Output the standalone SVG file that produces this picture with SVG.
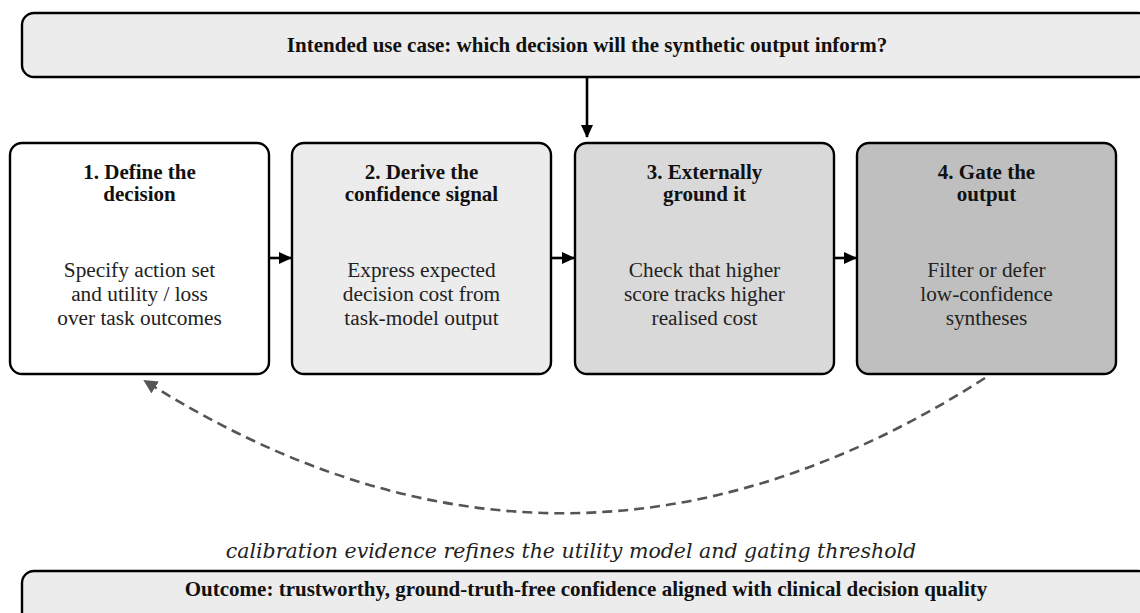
<svg xmlns="http://www.w3.org/2000/svg" width="1140" height="613" viewBox="0 0 1140 613">
<defs>
<style>
.box{stroke:#000;stroke-width:2.4}
.t{font-family:"Liberation Serif",serif;font-weight:bold;font-size:21px;fill:#111;text-anchor:middle}
.b{font-family:"Liberation Serif",serif;font-size:21.3px;fill:#222;text-anchor:middle}
.cap{font-family:"DejaVu Serif",serif;font-style:italic;font-size:20.5px;fill:#222;text-anchor:middle}
.c{fill:none;stroke:#000;stroke-width:2.6}
.fb{fill:none;stroke:#555;stroke-width:2.6;stroke-dasharray:10,6}
</style>
<marker id="ah" markerWidth="13" markerHeight="12" refX="12" refY="6" orient="auto" markerUnits="userSpaceOnUse"><path d="M0,0 L13,6 L0,12 z" fill="#000"/></marker>
<marker id="ahg" markerWidth="14" markerHeight="14" refX="12" refY="7" orient="auto" markerUnits="userSpaceOnUse"><path d="M0,0 L14,7 L0,14 z" fill="#555"/></marker>
</defs>
<g id="top"><rect class="box" x="22" y="13" width="1128" height="64" rx="12" fill="#ececec"/><text class="t" x="587" y="52">Intended use case: which decision will the synthetic output inform?</text></g>
<g id="n1"><rect class="box" x="10" y="143" width="259" height="231" rx="12" fill="#ffffff"/><text class="t" x="139.5" y="179">1. Define the</text><text class="t" x="139.5" y="201">decision</text><text class="b" x="139.5" y="277">Specify action set</text><text class="b" x="139.5" y="301">and utility / loss</text><text class="b" x="139.5" y="325">over task outcomes</text></g>
<g id="n2"><rect class="box" x="292" y="143" width="259" height="231" rx="12" fill="#ececec"/><text class="t" x="421.5" y="179">2. Derive the</text><text class="t" x="421.5" y="201">confidence signal</text><text class="b" x="421.5" y="277">Express expected</text><text class="b" x="421.5" y="301">decision cost from</text><text class="b" x="421.5" y="325">task-model output</text></g>
<g id="n3"><rect class="box" x="575" y="143" width="259" height="231" rx="12" fill="#d9d9d9"/><text class="t" x="704.5" y="179">3. Externally</text><text class="t" x="704.5" y="201">ground it</text><text class="b" x="704.5" y="277">Check that higher</text><text class="b" x="704.5" y="301">score tracks higher</text><text class="b" x="704.5" y="325">realised cost</text></g>
<g id="n4"><rect class="box" x="857" y="143" width="259" height="231" rx="12" fill="#bfbfbf"/><text class="t" x="986.5" y="179">4. Gate the</text><text class="t" x="986.5" y="201">output</text><text class="b" x="986.5" y="277">Filter or defer</text><text class="b" x="986.5" y="301">low-confidence</text><text class="b" x="986.5" y="325">syntheses</text></g>
<g id="bottom"><rect class="box" x="22" y="571" width="1128" height="64" rx="12" fill="#ececec"/><text class="t" x="586" y="596">Outcome: trustworthy, ground-truth-free confidence aligned with clinical decision quality</text></g>
<text class="cap" x="571" y="558">calibration evidence refines the utility model and gating threshold</text>
<g id="connectors">
<line class="c" x1="587" y1="78" x2="587" y2="137" marker-end="url(#ah)"/>
<line class="c" x1="268" y1="258" x2="291" y2="258" marker-end="url(#ah)"/>
<line class="c" x1="550" y1="258" x2="574" y2="258" marker-end="url(#ah)"/>
<line class="c" x1="833" y1="258" x2="856" y2="258" marker-end="url(#ah)"/>
<path class="fb" d="M985,378 Q565,647 145,381" marker-end="url(#ahg)"/>
</g>
</svg>
